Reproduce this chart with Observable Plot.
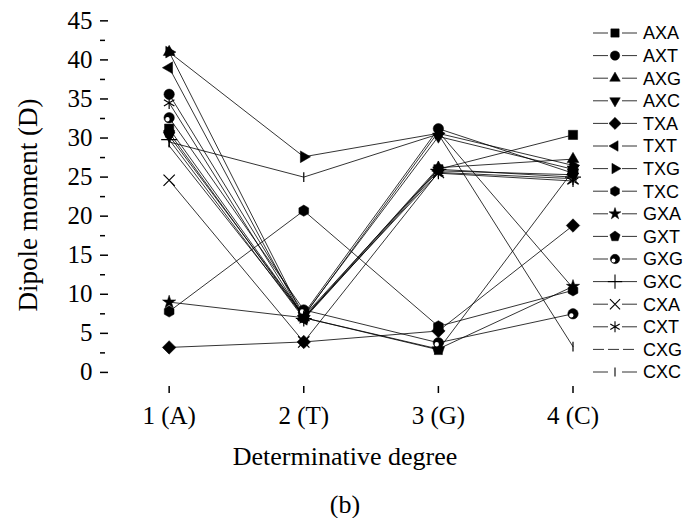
<!DOCTYPE html>
<html><head><meta charset="utf-8">
<script src="https://cdn.jsdelivr.net/npm/d3@7"></script>
<script src="https://cdn.jsdelivr.net/npm/@observablehq/plot@0.6"></script>
<style>
body{margin:0;background:#fff}
#wrap{position:relative;width:698px;height:518px;font-family:"Liberation Serif",serif;color:#000}
.lbl{position:absolute;white-space:nowrap;line-height:1}
#legend{position:absolute;left:585px;top:0}
</style></head><body><div id="wrap"></div>
<script>
// ---- data ----
const degrees = [1, 2, 3, 4];
const degreeLabels = ["1 (A)", "2 (T)", "3 (G)", "4 (C)"];
const yTicks = [0, 5, 10, 15, 20, 25, 30, 35, 40, 45];
const yMinorTicks = [2.5, 7.5, 12.5, 17.5, 22.5, 27.5, 32.5, 37.5, 42.5];
const seriesNames = ["AXA","AXT","AXG","AXC","TXA","TXT","TXG","TXC","GXA","GXT","GXG","GXC","CXA","CXT","CXG","CXC"];
const AXA = [31.2, 7.2, 26.0, 30.4];
const AXT = [35.6, 7.5, 31.2, 25.5];
const AXG = [41.0, 7.0, 26.2, 27.3];
const AXC = [30.3, 7.3, 30.2, 26.0];
const TXA = [3.2, 3.9, 5.3, 18.8];
const TXT = [39.0, 6.8, 25.8, 25.3];
const TXG = [41.0, 27.6, 30.6, 26.5];
const TXC = [7.8, 20.7, 5.9, 10.5];
const GXA = [9.0, 7.0, 3.0, 11.0];
const GXT = [30.7, 7.0, 2.9, 25.8];
const GXG = [32.6, 8.0, 3.8, 7.5];
const GXC = [29.8, 6.9, 26.0, 25.0];
const CXA = [24.6, 3.9, 25.6, 24.8];
const CXT = [34.5, 7.0, 25.5, 24.5];
const CXG = [29.0, 7.2, 30.8, 10.8];
const CXC = [29.5, 25.0, 30.5, 3.3];
const seriesValues = [AXA,AXT,AXG,AXC,TXA,TXT,TXG,TXC,GXA,GXT,GXG,GXC,CXA,CXT,CXG,CXC];

// ---- symbols ----
function poly(n, start, k) {
  return {draw(ctx, size) {
    const r = Math.sqrt(size / Math.PI) * k;
    for (let i = 0; i < n; i++) {
      const a = start + i * 2 * Math.PI / n;
      const x = r * Math.cos(a), y = r * Math.sin(a);
      if (i === 0) ctx.moveTo(x, y); else ctx.lineTo(x, y);
    }
    ctx.closePath();
  }};
}
const triUp = poly(3, -Math.PI / 2, 1.3);
const triDown = poly(3, Math.PI / 2, 1.3);
const triRight = poly(3, 0, 1.3);
const triLeft = poly(3, Math.PI, 1.3);
const diamond = poly(4, -Math.PI / 2, 1.3);
const hexagon = poly(6, Math.PI / 6, 1.08);
const pentagon = poly(5, -Math.PI / 2, 1.15);
const vbar = {draw(ctx, size) { const r = Math.sqrt(size / Math.PI) * 0.95; ctx.moveTo(0, -r); ctx.lineTo(0, r); }};
const spot = {draw(ctx, size) {
  const r = Math.sqrt(size / Math.PI);
  const cx = -0.32 * r, cy = 0.3 * r, rr = 0.42 * r;
  ctx.moveTo(cx + rr, cy); ctx.arc(cx, cy, rr, 0, 2 * Math.PI);
}};
const styles = {
  AXA: {symbol: d3.symbolSquare, k: 1.0, fill: true},
  AXT: {symbol: d3.symbolCircle, k: 1.0, fill: true},
  AXG: {symbol: triUp, k: 1.0, fill: true},
  AXC: {symbol: triDown, k: 1.0, fill: true},
  TXA: {symbol: diamond, k: 1.0, fill: true},
  TXT: {symbol: triLeft, k: 1.0, fill: true},
  TXG: {symbol: triRight, k: 1.0, fill: true},
  TXC: {symbol: hexagon, k: 1.0, fill: true},
  GXA: {symbol: d3.symbolStar, k: 0.8, fill: true},
  GXT: {symbol: pentagon, k: 1.0, fill: true},
  GXG: {symbol: d3.symbolCircle, k: 1.0, fill: true, spot: true},
  GXC: {symbol: d3.symbolPlus, k: 1.0, fill: false},
  CXA: {symbol: d3.symbolTimes, k: 1.0, fill: false},
  CXT: {symbol: d3.symbolAsterisk, k: 1.1, fill: false},
  CXG: {symbol: null, dashed: true},
  CXC: {symbol: vbar, k: 1.0, fill: false}
};

const rows = [];
seriesNames.forEach((name, i) => seriesValues[i].forEach((v, j) => rows.push({series: name, degree: degrees[j], value: v})));

const R = 5.2;
const dotMarks = [];
seriesNames.forEach(name => {
  const st = styles[name];
  if (!st.symbol) return;
  const data = rows.filter(d => d.series === name);
  dotMarks.push(Plot.dot(data, {x: "degree", y: "value", symbol: st.symbol, r: R * st.k,
    fill: st.fill ? "black" : "none", stroke: "black", strokeWidth: st.fill ? 0.5 : 1.2}));
  if (st.spot) dotMarks.push(Plot.dot(data, {x: "degree", y: "value", symbol: spot, r: R * st.k, fill: "white", stroke: "none"}));
});

const chart = Plot.plot({
  width: 698, height: 518,
  marginLeft: 100, marginRight: 108, marginTop: 18, marginBottom: 125,
  x: {domain: [0.49, 4.13]},
  y: {domain: [-2.7, 45.3]},
  style: {fontFamily: '"Liberation Serif", serif', fontSize: "25px", color: "black", background: "white", overflow: "visible"},
  marks: [
    // y labels + axis line
    Plot.axisY(yTicks, {anchor: "left", tickSize: 0, tickPadding: 8, line: true, label: null, strokeWidth: 1.5}),
    // inward major / minor ticks
    Plot.axisY(yTicks, {anchor: "left", tickSize: 8, insetLeft: 8, tickFormat: () => "", label: null, strokeWidth: 1.5}),
    Plot.axisY(yMinorTicks, {anchor: "left", tickSize: 5, insetLeft: 5, tickFormat: () => "", label: null, strokeWidth: 1.5}),
    // x labels + axis line, inward ticks
    Plot.axisX(degrees, {anchor: "bottom", tickSize: 0, tickPadding: 13, line: true, label: null, strokeWidth: 1.5,
      tickFormat: d => degreeLabels[d - 1]}),
    Plot.axisX(degrees, {anchor: "bottom", tickSize: 7, insetBottom: 7, tickFormat: () => "", label: null, strokeWidth: 1.5}),
    Plot.line(rows, {x: "degree", y: "value", z: "series", stroke: "black", strokeWidth: 0.8}),
    ...dotMarks
  ]
});

const wrap = document.getElementById("wrap");
wrap.appendChild(chart);

function addLabel(text, x, y, size, rotate, family) {
  const d = document.createElement("div");
  d.className = "lbl";
  d.textContent = text;
  d.style.left = x + "px"; d.style.top = y + "px";
  d.style.fontSize = size + "px";
  if (family) d.style.fontFamily = family;
  d.style.transform = "translate(-50%,-50%)" + (rotate ? " rotate(-90deg)" : "");
  wrap.appendChild(d);
}
addLabel("Dipole moment (D)", 28, 205, 27, true);
addLabel("Determinative degree", 345, 457, 26, false);
addLabel("(b)", 345, 505, 26, false);

// ---- legend ----
const leg = d3.select(wrap).append("svg").attr("id", "legend").attr("width", 113).attr("height", 400);
seriesNames.forEach((name, i) => {
  const st = styles[name];
  const y = 33 + i * 22.6;
  const g = leg.append("g").attr("transform", `translate(0,${y})`);
  if (st.dashed) {
    g.append("line").attr("x1", 8).attr("x2", 52).attr("y1", 0).attr("y2", 0)
      .attr("stroke", "#333").attr("stroke-width", 1).attr("stroke-dasharray", "11,4");
  } else {
    g.append("line").attr("x1", 8).attr("x2", 52).attr("y1", 0).attr("y2", 0).attr("stroke", "#333").attr("stroke-width", 1);
    const size = Math.PI * (R * st.k * 0.9) ** 2;
    g.append("rect").attr("x", 23).attr("y", -6).attr("width", 14).attr("height", 12).attr("fill", "white");
    g.append("path").attr("transform", "translate(30,0)").attr("d", d3.symbol(st.symbol, size)())
      .attr("fill", st.fill ? "black" : "none").attr("stroke", "black").attr("stroke-width", st.fill ? 0.5 : 1.1);
    if (st.spot) g.append("path").attr("transform", "translate(30,0)").attr("d", d3.symbol(spot, size)()).attr("fill", "white");
  }
  g.append("text").attr("x", 58).attr("y", 0).attr("dy", "0.36em").attr("font-family", '"Liberation Sans", Arial, sans-serif')
    .attr("font-size", 18).text(name);
});
</script></body></html>
